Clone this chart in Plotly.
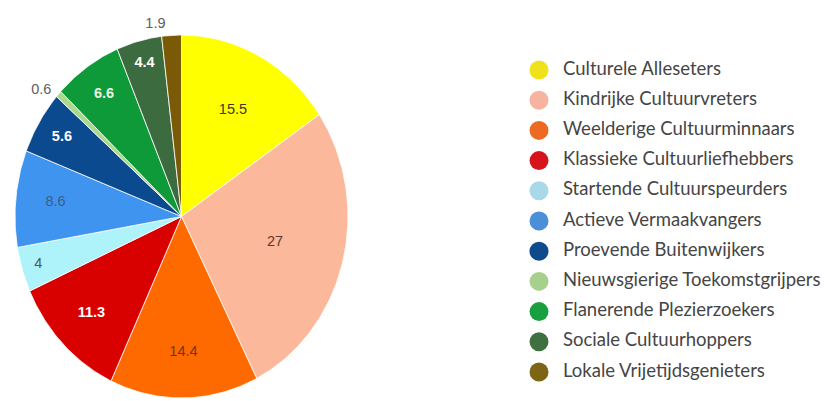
import numpy as np
import plotly.graph_objects as go

# ---- data ----
segments = [
    "Culturele Alleseters",
    "Kindrijke Cultuurvreters",
    "Weelderige Cultuurminnaars",
    "Klassieke Cultuurliefhebbers",
    "Startende Cultuurspeurders",
    "Actieve Vermaakvangers",
    "Proevende Buitenwijkers",
    "Nieuwsgierige Toekomstgrijpers",
    "Flanerende Plezierzoekers",
    "Sociale Cultuurhoppers",
    "Lokale Vrijetijdsgenieters",
]
shares = [15.5, 27, 14.4, 11.3, 4, 8.6, 5.6, 0.6, 6.6, 4.4, 1.9]

# ---- styles ----
slice_colors = ["#ffff00", "#fcb89b", "#ff6a00", "#d90000", "#aef2fa", "#3e94ee",
                "#0b4a8f", "#a9d98a", "#0f9a3a", "#3d6b40", "#7a5a06"]
legend_colors = ["#efe21a", "#f6b3a0", "#ec6a22", "#d5141c", "#a9d8e8", "#4a8fd8",
                 "#0f4a8c", "#a8d08d", "#18a040", "#3f7040", "#7d6516"]
label_colors = ["#3a3a20", "#5a3a2e", "#6a3a10", "#ffffff", "#4a5a5a", "#3a5f8c",
                "#ffffff", "#606060", "#e8f4e8", "#ffffff", "#606060"]
label_bold = [False, False, False, True, False, False, True, False, True, True, False]
label_r = [0.66, 0.58, 0.75, 0.76, 0.90, 0.76, 0.84, 1.09, 0.82, 0.87, 1.07]
label_dang = [0, 0, 0, 0, 0, 0, 0, -3, 0, 0, -5]

W, H = 826, 401
cx, cy, rx, ry = 181.5, 216.5, 166.5, 181.5

fig = go.Figure()

total = sum(shares)
start = 0.0
lx, ly, ltxt = [], [], []
for i, v in enumerate(shares):
    a0 = 2 * np.pi * start / total
    a1 = 2 * np.pi * (start + v) / total
    t = np.linspace(a0, a1, max(int((a1 - a0) * 80), 3))
    xs = np.concatenate([[cx], cx + rx * np.sin(t), [cx]])
    ys = np.concatenate([[cy], cy - ry * np.cos(t), [cy]])
    fig.add_trace(go.Scatter(x=xs, y=ys, mode="lines", fill="toself",
                             fillcolor=slice_colors[i],
                             line=dict(color="white", width=0.8),
                             showlegend=False, hoverinfo="skip"))
    am = (a0 + a1) / 2 + np.radians(label_dang[i])
    lx.append(cx + label_r[i] * rx * np.sin(am))
    ly.append(cy - label_r[i] * ry * np.cos(am))
    s = f"{v:g}"
    ltxt.append(f"<b>{s}</b>" if label_bold[i] else s)
    start += v

fig.add_trace(go.Scatter(x=lx, y=ly, mode="text", text=ltxt,
                         textfont=dict(family="Liberation Sans, Arial", size=14.5,
                                       color=label_colors),
                         showlegend=False, hoverinfo="skip"))

# legend (drawn as markers + text)
leg_y = [70 + i * 30.2 for i in range(len(segments))]
fig.add_trace(go.Scatter(x=[539] * len(segments), y=leg_y, mode="markers",
                         marker=dict(size=19, color=legend_colors),
                         showlegend=False, hoverinfo="skip"))
fig.add_trace(go.Scatter(x=[563] * len(segments), y=leg_y, mode="text",
                         text=segments, textposition="middle right",
                         textfont=dict(family="Lato", size=18.5, color="#454545"),
                         showlegend=False, hoverinfo="skip"))

fig.update_layout(
    width=W, height=H, margin=dict(l=0, r=0, t=0, b=0),
    paper_bgcolor="white", plot_bgcolor="white",
    xaxis=dict(range=[0, W], visible=False, fixedrange=True),
    yaxis=dict(range=[H, 0], visible=False, fixedrange=True),
)

fig.write_html("out.html")
